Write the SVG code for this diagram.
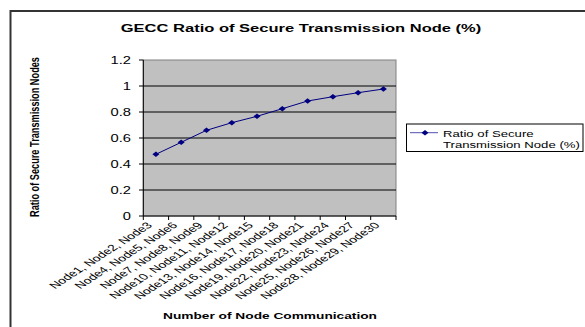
<svg xmlns="http://www.w3.org/2000/svg" xmlns:xlink="http://www.w3.org/1999/xlink" width="585" height="327" viewBox="0 0 585 327">
<style>
  .t { font-family: "Liberation Sans", Arial, sans-serif; fill: #000; }
  .b { font-weight: bold; }
  .grid { stroke: #000; stroke-width: 1; }
  .ax { stroke: #000; stroke-width: 1; fill: none; }
  .ser { stroke: #000080; stroke-width: 1; fill: none; }
  .mk { fill: #000080; }
</style>
<defs>
  <path id="dm" d="M-3.5,0 L0,-2.8 L3.5,0 L0,2.8Z"/>
</defs>
<rect x="0" y="0" width="585" height="327" fill="#fff"/>
<path d="M10.5,327 V11 H585" fill="none" stroke="#333" stroke-width="2"/>

<g id="title">
  <text class="t b" font-size="11.8" text-anchor="middle" transform="translate(301,32) scale(1.4,1)">GECC Ratio of Secure Transmission Node (%)</text>
</g>

<g id="plot">
  <rect x="143.3" y="60" width="252.7" height="156" fill="#c0c0c0" stroke="#808080" stroke-width="1"/>
  <g class="grid">
    <line x1="143.3" y1="86" x2="396" y2="86"/>
    <line x1="143.3" y1="112" x2="396" y2="112"/>
    <line x1="143.3" y1="138" x2="396" y2="138"/>
    <line x1="143.3" y1="164" x2="396" y2="164"/>
    <line x1="143.3" y1="190" x2="396" y2="190"/>
  </g>
</g>

<g id="y-axis">
  <path class="ax" d="M143.3,60 V216 M139,60 H143.3 M139,86 H143.3 M139,112 H143.3 M139,138 H143.3 M139,164 H143.3 M139,190 H143.3 M139,216 H143.3"/>
  <g class="t" font-size="10.5" text-anchor="end">
    <text transform="translate(131,63.8) scale(1.4,1)">1.2</text>
    <text transform="translate(131,89.8) scale(1.4,1)">1</text>
    <text transform="translate(131,115.8) scale(1.4,1)">0.8</text>
    <text transform="translate(131,141.8) scale(1.4,1)">0.6</text>
    <text transform="translate(131,167.8) scale(1.4,1)">0.4</text>
    <text transform="translate(131,193.8) scale(1.4,1)">0.2</text>
    <text transform="translate(131,219.8) scale(1.4,1)">0</text>
  </g>
  <text class="t b" font-size="9.2" text-anchor="middle" transform="translate(39,137) scale(1.4,1) rotate(-90)">Ratio of Secure Transmission Nodes</text>
</g>

<g id="x-axis">
  <path class="ax" d="M143.3,216 H396 M143.3,216 V220 M168.6,216 V220 M193.8,216 V220 M219.1,216 V220 M244.4,216 V220 M269.7,216 V220 M294.9,216 V220 M320.2,216 V220 M345.5,216 V220 M370.7,216 V220 M396,216 V220"/>
  <g class="t" font-size="9" text-anchor="end">
    <text transform="translate(153,226) scale(1.55,1) rotate(-45)">Node1, Node2, Node3</text>
    <text transform="translate(178.3,226) scale(1.55,1) rotate(-45)">Node4, Node5, Node6</text>
    <text transform="translate(203.5,226) scale(1.55,1) rotate(-45)">Node7, Node8, Node9</text>
    <text transform="translate(228.8,226) scale(1.55,1) rotate(-45)">Node10, Node11, Node12</text>
    <text transform="translate(254.1,226) scale(1.55,1) rotate(-45)">Node13, Node14, Node15</text>
    <text transform="translate(279.4,226) scale(1.55,1) rotate(-45)">Node16, Node17, Node18</text>
    <text transform="translate(304.6,226) scale(1.55,1) rotate(-45)">Node19, Node20, Node21</text>
    <text transform="translate(329.9,226) scale(1.55,1) rotate(-45)">Node22, Node23, Node24</text>
    <text transform="translate(355.2,226) scale(1.55,1) rotate(-45)">Node25, Node26, Node27</text>
    <text transform="translate(380.4,226) scale(1.55,1) rotate(-45)">Node28, Node29, Node30</text>
  </g>
  <text class="t b" font-size="9.8" text-anchor="middle" transform="translate(270,319) scale(1.4,1)">Number of Node Communication</text>
</g>

<g id="series">
  <polyline class="ser" points="155.9,154.3 181.2,142.3 206.5,130.3 231.8,122.7 257,116.3 282.3,108.7 307.6,101 332.9,96.7 358.1,92.7 383.4,89"/>
  <g class="mk">
    <use xlink:href="#dm" x="155.9" y="154.3"/>
    <use xlink:href="#dm" x="181.2" y="142.3"/>
    <use xlink:href="#dm" x="206.5" y="130.3"/>
    <use xlink:href="#dm" x="231.8" y="122.7"/>
    <use xlink:href="#dm" x="257" y="116.3"/>
    <use xlink:href="#dm" x="282.3" y="108.7"/>
    <use xlink:href="#dm" x="307.6" y="101"/>
    <use xlink:href="#dm" x="332.9" y="96.7"/>
    <use xlink:href="#dm" x="358.1" y="92.7"/>
    <use xlink:href="#dm" x="383.4" y="89"/>
  </g>
</g>

<g id="legend">
  <rect x="406.5" y="124" width="176.5" height="27.5" fill="#fff" stroke="#000" stroke-width="1"/>
  <line x1="410" y1="132.7" x2="438" y2="132.7" stroke="#5050b0" stroke-width="1"/>
  <use class="mk" xlink:href="#dm" x="425" y="132.7"/>
  <text class="t" font-size="9.4" transform="translate(443,136.5) scale(1.4,1)">Ratio of Secure</text>
  <text class="t" font-size="9.4" transform="translate(443,147.5) scale(1.4,1)">Transmission Node (%)</text>
</g>
</svg>
